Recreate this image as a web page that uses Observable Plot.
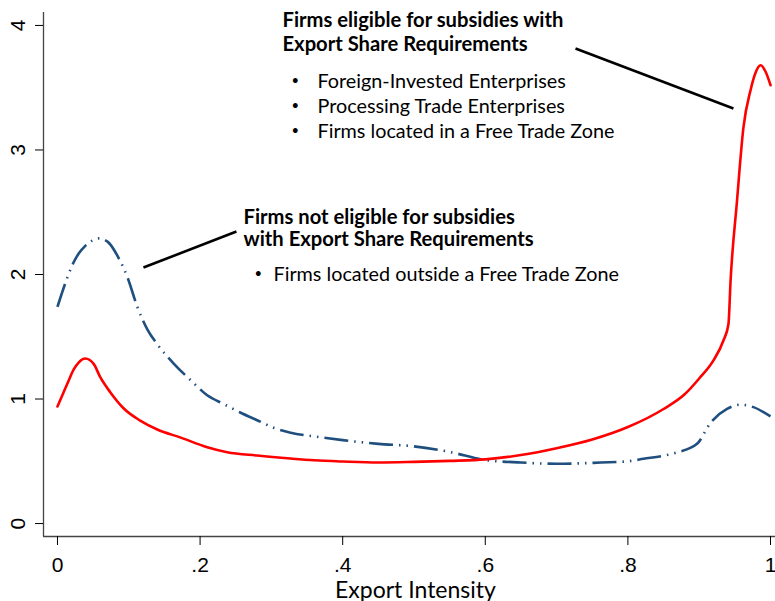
<!DOCTYPE html>
<html><head><meta charset="utf-8">
<script src="https://cdn.jsdelivr.net/npm/d3@7"></script>
<script src="https://cdn.jsdelivr.net/npm/@observablehq/plot@0.6"></script>
<style>
  html, body { margin: 0; padding: 0; background: #fff; }
  #chart svg { display: block; overflow: visible; }
</style>
</head><body><div id="chart"></div>
<script>
// ---- Data ----
const xTicks = [0, 0.2, 0.4, 0.6, 0.8, 1];
const xTickLabels = ["0", ".2", ".4", ".6", ".8", "1"];
const yTicks = [0, 1, 2, 3, 4];
const xTitle = "Export Intensity";

// Eligible firms (red, solid)
const redX = [0, 0.0136, 0.023, 0.03, 0.039, 0.051, 0.06, 0.074, 0.093, 0.116, 0.14, 0.173, 0.21, 0.238, 0.28, 0.327, 0.36, 0.4, 0.45, 0.5, 0.55, 0.6, 0.65, 0.7, 0.75, 0.8, 0.85, 0.88, 0.9, 0.92, 0.934, 0.941, 0.944, 0.953, 0.962, 0.972, 0.979, 0.986, 0.993, 1.0];
const redY = [0.94, 1.12, 1.24, 1.295, 1.325, 1.28, 1.175, 1.055, 0.924, 0.827, 0.755, 0.69, 0.613, 0.573, 0.546, 0.522, 0.508, 0.498, 0.49, 0.495, 0.503, 0.515, 0.55, 0.605, 0.675, 0.775, 0.92, 1.04, 1.165, 1.31, 1.47, 1.6, 1.95, 2.59, 3.18, 3.48, 3.62, 3.68, 3.63, 3.52];

// Not eligible firms (navy, dash-dot-dot)
const blueX = [0, 0.011, 0.022, 0.03, 0.039, 0.048, 0.058, 0.071, 0.086, 0.098, 0.112, 0.126, 0.14, 0.163, 0.187, 0.21, 0.233, 0.257, 0.28, 0.303, 0.327, 0.36, 0.4, 0.45, 0.5, 0.55, 0.6, 0.65, 0.7, 0.762, 0.8, 0.822, 0.85, 0.87, 0.897, 0.916, 0.939, 0.958, 0.976, 1.0];
const blueY = [1.74, 1.93, 2.09, 2.17, 2.23, 2.27, 2.29, 2.26, 2.13, 1.98, 1.74, 1.56, 1.44, 1.285, 1.15, 1.03, 0.96, 0.89, 0.83, 0.77, 0.73, 0.70, 0.67, 0.64, 0.62, 0.575, 0.51, 0.49, 0.48, 0.49, 0.50, 0.52, 0.545, 0.573, 0.64, 0.81, 0.92, 0.955, 0.935, 0.86];

// Annotation texts
const upperTitle = ["Firms eligible for subsidies with", "Export Share Requirements"];
const upperBullets = ["Foreign-Invested Enterprises", "Processing Trade Enterprises", "Firms located in a Free Trade Zone"];
const lowerTitle = ["Firms not eligible for subsidies", "with Export Share Requirements"];
const lowerBullets = ["Firms located outside a Free Trade Zone"];

// ---- Build ----
const red = redX.map((x, i) => ({x, y: redY[i]}));
const blue = blueX.map((x, i) => ({x, y: blueY[i]}));

const xDomain = [-0.0196, 1.007];
const yDomain = [-0.104, 4.104];

// annotation anchors (data units) and pointer segments
const upperAnno = {x: 0.3156, yTitle: 3.791, yBullets: 3.100};
const lowerAnno = {x: 0.2609, yTitle: 2.225, yBullets: 1.944};
const pointers = [
  {x1: 0.7265, y1: 3.815, x2: 0.948, y2: 3.333},
  {x1: 0.1206, y1: 2.056, x2: 0.251, y2: 2.345}
];

const annoFont = "Lato, 'Open Sans', sans-serif";
const tickFont = "'Liberation Sans', Arial, sans-serif";
const fsBold = 20.2, fsReg = 19.8, fsDot = 13;

const chart = Plot.plot({
  width: 775,
  height: 601,
  marginLeft: 43,
  marginRight: 0,
  marginTop: 12,
  marginBottom: 65,
  style: {background: "#fff", color: "#000"},
  x: {domain: xDomain},
  y: {domain: yDomain},
  marks: [
    Plot.ruleX([xDomain[0]], {stroke: "#444", strokeWidth: 1.3}),
    Plot.ruleY([yDomain[0]], {stroke: "#444", strokeWidth: 1.3}),
    Plot.axisX({ticks: xTicks, tickSize: 9, tickPadding: 12, label: null,
      tickFormat: d => xTickLabels[xTicks.indexOf(d)], fontSize: 21, fontFamily: tickFont}),
    Plot.axisY({ticks: yTicks, tickSize: 8, label: null, tickFormat: () => ""}),
    Plot.text(yTicks, {x: () => xDomain[0], y: d => d, text: d => String(d), rotate: -90,
      dx: -25, fontSize: 21, fontFamily: tickFont, textAnchor: "middle", lineAnchor: "middle"}),
    Plot.text([xTitle], {frameAnchor: "bottom", dx: 6, dy: 61, lineAnchor: "bottom",
      fontSize: 23, fontFamily: annoFont}),
    Plot.line(blue, {x: "x", y: "y", stroke: "#1f4f7f", strokeWidth: 2.6, curve: "monotone-x",
      strokeDasharray: "24 6 1.5 6 1.5 6", strokeLinecap: "butt"}),
    Plot.line(red, {x: "x", y: "y", stroke: "#ff0000", strokeWidth: 2.6, curve: "monotone-x"}),
    Plot.link(pointers, {x1: "x1", y1: "y1", x2: "x2", y2: "y2", stroke: "#000", strokeWidth: 2.6}),
    // upper annotation
    Plot.text([upperTitle.join("\n")], {x: () => upperAnno.x, y: () => upperAnno.yTitle,
      textAnchor: "start", lineAnchor: "bottom", lineHeight: 24 / fsBold, fontWeight: "bold",
      fontSize: fsBold, fontFamily: annoFont}),
    Plot.text([upperBullets.map(() => "•").join("\n")], {x: () => upperAnno.x, y: () => upperAnno.yBullets,
      dx: 9, dy: -3, textAnchor: "start", lineAnchor: "bottom", lineHeight: 25 / fsDot,
      fontSize: fsDot, fontFamily: annoFont}),
    Plot.text([upperBullets.join("\n")], {x: () => upperAnno.x, y: () => upperAnno.yBullets,
      dx: 35, textAnchor: "start", lineAnchor: "bottom", lineHeight: 25 / fsReg,
      fontSize: fsReg, fontFamily: annoFont}),
    // lower annotation
    Plot.text([lowerTitle.join("\n")], {x: () => lowerAnno.x, y: () => lowerAnno.yTitle,
      textAnchor: "start", lineAnchor: "bottom", lineHeight: 22 / fsBold, fontWeight: "bold",
      fontSize: fsBold, fontFamily: annoFont}),
    Plot.text([lowerBullets.map(() => "•").join("\n")], {x: () => lowerAnno.x, y: () => lowerAnno.yBullets,
      dx: 11, dy: -3, textAnchor: "start", lineAnchor: "bottom", fontSize: fsDot, fontFamily: annoFont}),
    Plot.text([lowerBullets.join("\n")], {x: () => lowerAnno.x, y: () => lowerAnno.yBullets,
      dx: 30, textAnchor: "start", lineAnchor: "bottom", fontSize: fsReg, fontFamily: annoFont})
  ]
});
document.getElementById("chart").appendChild(chart);
</script>
</body></html>
